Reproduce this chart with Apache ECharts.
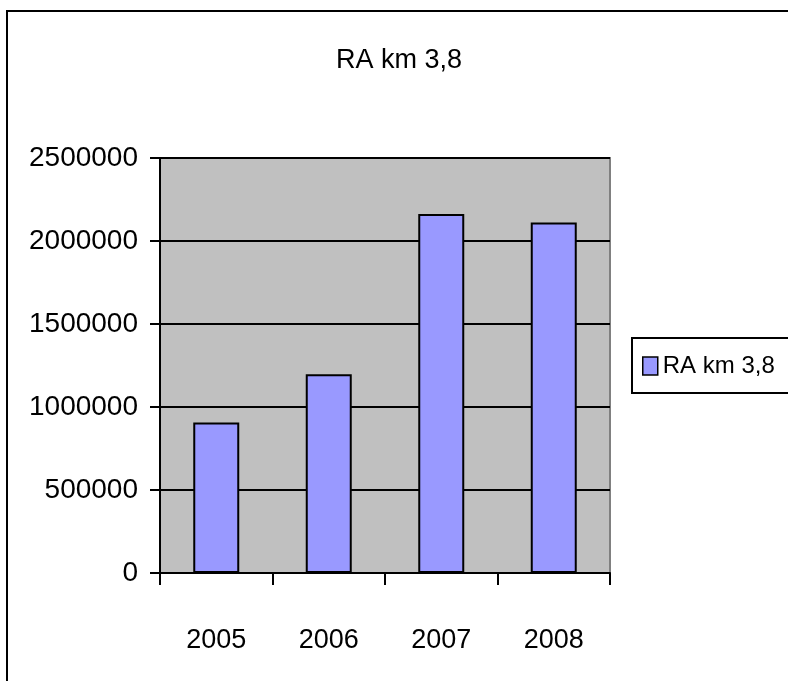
<!DOCTYPE html>
<html><head><meta charset="utf-8">
<script src="https://cdn.jsdelivr.net/npm/echarts@6/dist/echarts.min.js"></script>
<style>html,body{margin:0;padding:0;background:#fff}#c{width:788px;height:681px}</style>
</head><body><div id="c"></div>
<script>
var titleText = 'RA km 3,8';
var seriesName = 'RA km 3,8';
var categories = ['2005', '2006', '2007', '2008'];
var values = [906000, 1198000, 2163000, 2112000];
var yTicks = [0, 500000, 1000000, 1500000, 2000000, 2500000];

var FONT = '"Liberation Sans", Arial, sans-serif';
var chart = echarts.init(document.getElementById('c'));
chart.setOption({
  animation: false,
  backgroundColor: '#fff',
  title: {
    text: titleText, left: 394, top: 42, textAlign: 'center',
    textStyle: { fontFamily: FONT, fontSize: 27, fontWeight: 'normal', color: '#000' }
  },
  legend: {
    left: 632, top: 338, orient: 'vertical',
    padding: [16, 20, 15, 10],
    backgroundColor: '#fff', borderColor: '#000', borderWidth: 2,
    itemWidth: 15, itemHeight: 18,
    textStyle: { fontFamily: FONT, fontSize: 24, color: '#000' },
    data: [{ name: seriesName, icon: 'rect', itemStyle: { borderColor: '#000', borderWidth: 1.5 } }]
  },
  graphic: [{
    type: 'rect', z: -1, shape: { x: 7, y: 11, width: 800, height: 700 },
    style: { fill: null, stroke: '#000', lineWidth: 2 }
  }],
  grid: {
    left: 160, top: 158, width: 450, height: 415,
    show: true, backgroundColor: '#c0c0c0', borderColor: '#808080', borderWidth: 2
  },
  xAxis: {
    type: 'category', data: categories,
    axisLine: { lineStyle: { color: '#000', width: 2 } },
    axisTick: { show: true, length: 12, lineStyle: { color: '#000', width: 2 } },
    axisLabel: { margin: 54, fontFamily: FONT, fontSize: 27, color: '#000' }
  },
  yAxis: {
    type: 'value', min: yTicks[0], max: yTicks[yTicks.length - 1], interval: yTicks[1] - yTicks[0],
    axisLine: { show: true, lineStyle: { color: '#000', width: 2 } },
    axisTick: { show: true, length: 10, lineStyle: { color: '#000', width: 2 } },
    splitLine: { lineStyle: { color: '#000', width: 2 } },
    axisLabel: { margin: 22, fontFamily: FONT, fontSize: 28, color: '#000',
      formatter: function (v) { return String(v); } }
  },
  series: [{
    name: seriesName, type: 'bar', data: values, barWidth: 46,
    itemStyle: { color: '#9999ff', borderColor: '#000', borderWidth: 2 }
  }]
});
</script></body></html>
